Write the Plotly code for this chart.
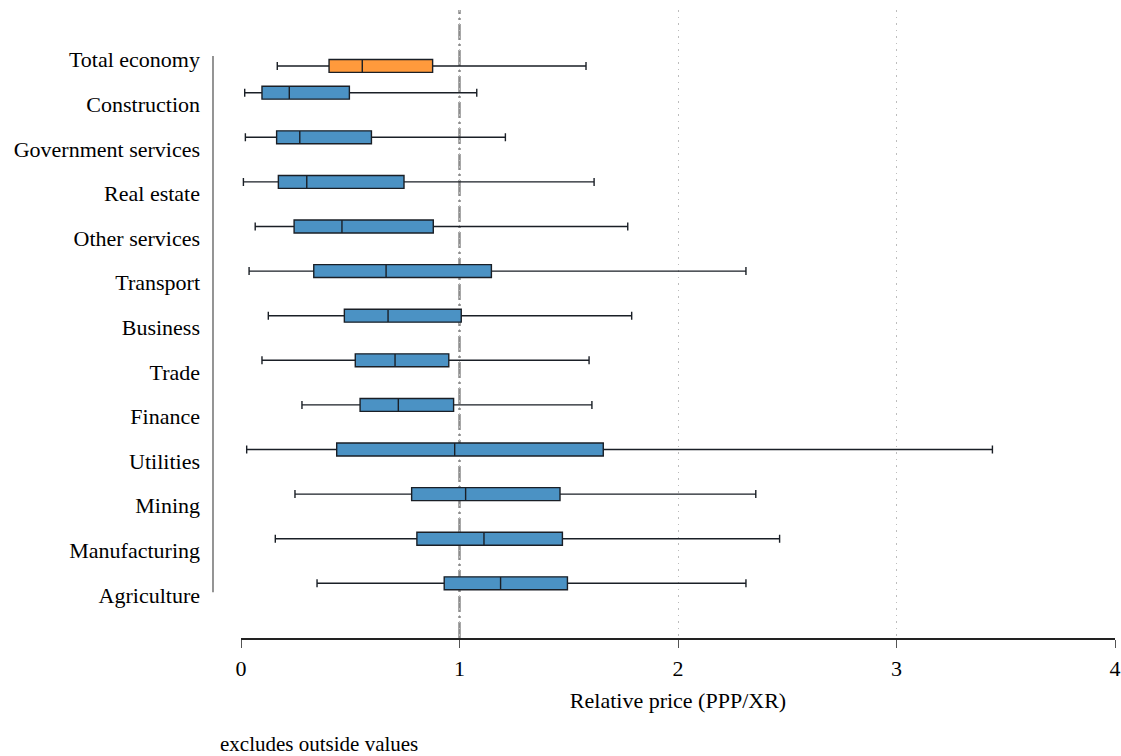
import plotly.graph_objects as go

# ---- data ----
sectors = ["Agriculture", "Manufacturing", "Mining", "Utilities", "Finance", "Trade",
           "Business", "Transport", "Other services", "Real estate",
           "Government services", "Construction"]
sector_pos = [0, 1, 2, 3, 4, 5, 6, 7, 8, 9, 10, 11]
lower = [0.348, 0.157, 0.247, 0.026, 0.279, 0.096, 0.125, 0.037, 0.065, 0.011, 0.020, 0.017]
q1 = [0.930, 0.805, 0.781, 0.438, 0.545, 0.523, 0.473, 0.333, 0.243, 0.171, 0.163, 0.096]
median = [1.188, 1.112, 1.028, 0.978, 0.720, 0.705, 0.673, 0.664, 0.462, 0.301, 0.269, 0.221]
q3 = [1.494, 1.471, 1.460, 1.658, 0.973, 0.951, 1.008, 1.146, 0.880, 0.746, 0.597, 0.496]
upper = [2.311, 2.465, 2.356, 3.439, 1.606, 1.593, 1.788, 2.311, 1.770, 1.616, 1.210, 1.079]

total_label = "Total economy"
total_pos = 11.6
total_stats = {"lower": 0.166, "q1": 0.403, "median": 0.555, "q3": 0.877, "upper": 1.579}

# category labels (bottom to top), tick positions
tick_labels = sectors + [total_label]
tick_pos = [p - 0.26 for p in range(13)]

x_ticks = [0, 1, 2, 3, 4]
reference_value = 1
x_title = "Relative price (PPP/XR)"
note = "excludes outside values"

FONT = "Liberation Serif, Times New Roman, serif"
BLUE = "#4b92c4"
ORANGE = "#ff9a3c"
EDGE = "#1a1f26"

W, H = 1121, 756
L, R, T, B = 241, 6, 10, 118
PW, PH = W - L - R, H - T - B

fig = go.Figure()
fig.add_trace(go.Box(
    orientation="h", y=sector_pos, q1=q1, median=median, q3=q3,
    lowerfence=lower, upperfence=upper,
    fillcolor=BLUE, line=dict(color=EDGE, width=1.4),
    width=0.29, whiskerwidth=0.62, boxpoints=False, showlegend=False,
    hoverinfo="skip"))
fig.add_trace(go.Box(
    orientation="h", y=[total_pos], q1=[total_stats["q1"]], median=[total_stats["median"]],
    q3=[total_stats["q3"]], lowerfence=[total_stats["lower"]], upperfence=[total_stats["upper"]],
    fillcolor=ORANGE, line=dict(color=EDGE, width=1.4),
    width=0.29, whiskerwidth=0.62, boxpoints=False, showlegend=False,
    hoverinfo="skip"))

# reference line at 1
fig.add_vline(x=reference_value, line=dict(color="#8c8c8c", width=2.5, dash="16px,4px,2px,4px"),
              layer="below")

# left grouping line
fig.add_shape(type="line", xref="paper", yref="y", x0=-28/PW, x1=-28/PW,
              y0=11.82, y1=-0.2, line=dict(color="#7a7a7a", width=1.6))

fig.add_annotation(text=note, xref="paper", yref="paper", x=-23/PW,
                   y=-106/PH, xanchor="left", yanchor="middle", showarrow=False,
                   font=dict(family=FONT, size=21, color="black"))

fig.update_layout(
    width=W, height=H, autosize=False,
    margin=dict(l=L, r=R, t=T, b=B, autoexpand=False),
    paper_bgcolor="white", plot_bgcolor="white",
    boxmode="overlay",
    font=dict(family=FONT, size=22, color="black"),
    xaxis=dict(range=[0, 4], tickvals=x_ticks, ticktext=[str(v) for v in x_ticks],
               automargin=False,
               showgrid=True, gridcolor="#bdbdbd", griddash="1.5px,5px", gridwidth=1.2,
               zeroline=False, showline=True, linecolor="#222", linewidth=1.5,
               ticks="outside", ticklen=8, tickcolor="#555", ticklabelstandoff=2,
               title=dict(text=x_title, standoff=12, font=dict(size=22))),
    yaxis=dict(range=[-1.226, 12.854], tickvals=tick_pos, ticktext=tick_labels,
               automargin=False,
               showgrid=False, zeroline=False, showline=False, ticks="",
               ticklabelstandoff=40),
)

fig.write_html(
    "out.html",
    config={"responsive": False, "displayModeBar": False},
    post_script="document.body.style.margin='0';document.documentElement.style.overflow='hidden';",
)
